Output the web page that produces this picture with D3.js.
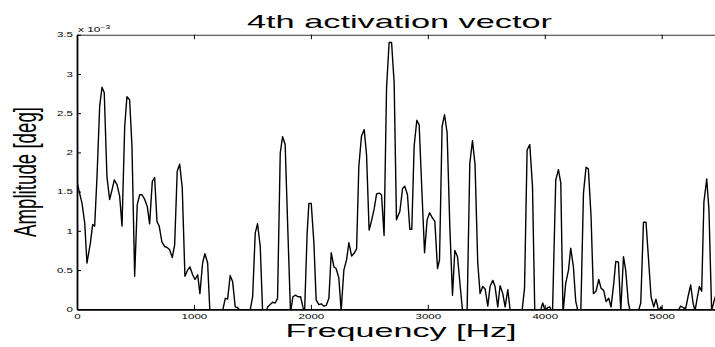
<!DOCTYPE html>
<html>
<head>
<meta charset="utf-8">
<script src="https://cdn.jsdelivr.net/npm/d3@7"></script>
<style>
  body { margin: 0; background: #fff; }
  text { font-family: "Liberation Sans", Arial, Helvetica, sans-serif; fill: #000; }
</style>
</head>
<body>
<svg id="chart" width="715" height="347"></svg>
<script>
// frequency (Hz) and amplitude (x 1e-3 deg)
var freqHz = [0,43,66,85,114,134,151,171,194,214,233,256,279,299,319,342,365,385,408,427,450,470,493,515,536,556,579,601,621,644,664,684,703,726,750,769,792,815,835,857,878,900,923,946,966,989,1009,1032,1051,1074,1094,1117,1137,1160,1179,1203,1222,1245,1268,1288,1310,1331,1353,1374,1396,1417,1438,1459,1481,1502,1524,1544,1567,1587,1609,1630,1652,1673,1695,1715,1738,1758,1780,1801,1826,1846,1869,1889,1912,1932,1946,1968,1983,2003,2026,2045,2068,2088,2111,2131,2154,2174,2197,2216,2239,2259,2282,2305,2325,2348,2368,2391,2410,2433,2456,2476,2498,2519,2541,2562,2584,2604,2626,2647,2669,2690,2712,2732,2761,2784,2803,2826,2846,2863,2883,2906,2926,2949,2972,2994,3015,3037,3060,3083,3100,3122,3143,3165,3188,3211,3231,3254,3276,3297,3316,3336,3359,3382,3404,3427,3447,3470,3490,3513,3532,3556,3575,3598,3618,3641,3661,3684,3707,3735,3778,3806,3827,3849,3872,3895,3915,3938,3963,3983,4003,4023,4043,4066,4094,4117,4137,4156,4179,4203,4222,4245,4265,4288,4308,4331,4353,4373,4396,4416,4438,4462,4481,4504,4524,4547,4567,4590,4607,4630,4650,4673,4692,4715,4735,4758,4780,4801,4821,4844,4866,4886,4909,4932,4951,4974,4994,5015,5043,5085,5122,5143,5162,5185,5205,5225,5248,5268,5285,5302,5322,5342,5361,5385,5404,5427,5450,5467];
var amplitude = [1.62,1.35,1.10,0.59,0.84,1.08,1.06,1.69,2.59,2.83,2.76,1.69,1.40,1.52,1.65,1.59,1.44,1.06,2.33,2.71,2.67,2.08,0.42,1.33,1.46,1.46,1.40,1.31,1.09,1.63,1.68,1.12,1.06,0.86,0.80,0.79,0.76,0.66,0.82,1.76,1.85,1.55,0.42,0.50,0.54,0.44,0.38,0.44,0.20,0.59,0.71,0.59,-0.05,-0.3,-0.4,-0.4,-0.3,-0.02,0.14,0.13,0.43,0.35,0.03,0.02,-0.02,-0.2,-0.3,-0.2,-0.01,0.16,0.97,1.09,0.80,-0.02,-0.1,0.03,0.06,0.09,0.08,0.14,1.99,2.20,2.10,1.10,-0.05,0.16,0.18,0.16,0.16,0.03,-0.05,0.97,1.35,1.35,0.84,0.12,0.06,0.07,0.04,0.05,0.14,0.72,0.54,0.52,0.40,-0.02,0.50,0.63,0.85,0.68,0.71,0.77,1.82,2.21,2.29,1.97,1.01,1.13,1.28,1.47,1.48,1.46,0.94,2.82,3.40,3.40,2.89,1.14,1.25,1.54,1.57,1.46,1.02,1.02,2.08,2.41,2.35,1.52,0.72,1.14,1.23,1.17,1.12,0.52,0.63,2.33,2.48,2.25,1.06,0.18,0.75,0.67,0.31,-0.02,-0.3,-0.02,1.86,2.15,1.84,0.59,0.20,0.29,0.26,0.04,0.29,0.37,0.29,0.03,0.30,0.20,0.03,0.25,-0.05,-0.3,-0.3,-0.02,0.27,2.03,2.10,1.57,-0.05,-0.3,-0.02,0.08,-0.02,0.02,0.03,-0.05,1.65,1.78,1.61,-0.05,0.33,0.50,0.78,0.54,0.10,-0.05,-0.05,1.48,1.81,1.79,1.18,0.20,0.23,0.38,0.27,0.24,0.10,0.14,0.03,0.33,0.61,0.60,-0.02,0.67,0.50,0.08,-0.05,-0.3,-0.3,-0.02,0.08,1.11,1.11,0.67,0.16,0.03,0.13,-0.02,0.03,-0.05,-0.3,-0.3,-0.1,-0.01,0.04,0.02,0.01,0.16,0.31,0.08,-0.02,0.13,0.29,0.23,1.37,1.66,1.27,-0.02,0.12,0.2];

var xTicks = [0, 1000, 2000, 3000, 4000, 5000];
var yTicks = [0, 0.5, 1, 1.5, 2, 2.5, 3, 3.5];

var titleText = "4th activation vector";
var xLabel = "Frequency [Hz]";
var yLabel = "Amplitude [deg]";

var svg = d3.select("#chart");
var plotLeft = 77, plotTop = 34.7, plotBottom = 309.3;
var stretch = 1.7;   // the figure is wider than tall, text looks stretched

var x = d3.scaleLinear().domain([0, 5512.5]).range([plotLeft, plotLeft + 5512.5 * 0.11694]);
var y = d3.scaleLinear().domain([0, 3.5]).range([plotBottom, plotTop]);

svg.append("rect").attr("width", 715).attr("height", 347).attr("fill", "#fff");

svg.append("clipPath").attr("id", "plotclip")
  .append("rect")
  .attr("x", plotLeft).attr("y", plotTop)
  .attr("width", x(5512.5) - plotLeft).attr("height", plotBottom - plotTop);

var pts = freqHz.map(function(f, i) { return [f, amplitude[i]]; });

svg.append("path")
  .datum(pts)
  .attr("clip-path", "url(#plotclip)")
  .attr("fill", "none")
  .attr("stroke", "#000")
  .attr("stroke-width", 1.4)
  .attr("stroke-linejoin", "round")
  .attr("d", d3.line().x(function(d) { return x(d[0]); }).y(function(d) { return y(d[1]); }));

// bottom axis
var gx = svg.append("g").attr("transform", "translate(0," + plotBottom + ")")
  .call(d3.axisBottom(x).tickValues(xTicks).tickSizeInner(-4.5).tickSizeOuter(0).tickPadding(5).tickFormat(d3.format("d")));
gx.select(".domain").attr("stroke-width", 1.8);
gx.selectAll("text").attr("font-size", 6.8).attr("transform", "scale(" + stretch + ",1)").attr("y", 4.5);

// top axis, ticks only
var gt = svg.append("g").attr("transform", "translate(0," + plotTop + ")")
  .call(d3.axisTop(x).tickValues(xTicks).tickSizeInner(-4.5).tickSizeOuter(0).tickFormat(""));
gt.select(".domain").attr("stroke-width", 1.1).attr("stroke", "#333");

// left axis
var gy = svg.append("g").attr("transform", "translate(" + plotLeft + ",0)")
  .call(d3.axisLeft(y).tickValues(yTicks).tickSizeInner(-4).tickSizeOuter(0).tickFormat(d3.format("")));
gy.select(".domain").attr("stroke-width", 1.8);
gy.selectAll("text").attr("font-size", 6.8).attr("x", -4 / stretch).attr("transform", "scale(" + stretch + ",1)");

// exponent label
var ex = svg.append("text").attr("transform", "translate(78,32) scale(" + stretch + ",1)").attr("font-size", 7);
ex.append("tspan").text("x 10");
ex.append("tspan").attr("font-size", 5).attr("dy", -3.5).text("\u22123");

svg.append("text")
  .attr("x", 399.5).attr("y", 28.3)
  .attr("text-anchor", "middle")
  .attr("font-size", 18.6)
  .attr("textLength", 305).attr("lengthAdjust", "spacingAndGlyphs")
  .text(titleText);

svg.append("text")
  .attr("x", 401).attr("y", 336.7)
  .attr("text-anchor", "middle")
  .attr("font-size", 17.7)
  .attr("textLength", 231).attr("lengthAdjust", "spacingAndGlyphs")
  .text(xLabel);

svg.append("text")
  .attr("transform", "translate(36,172) scale(1.8,1) rotate(-90)")
  .attr("text-anchor", "middle")
  .attr("font-size", 17.8)
  .attr("textLength", 130).attr("lengthAdjust", "spacingAndGlyphs")
  .text(yLabel);
</script>
</body>
</html>
